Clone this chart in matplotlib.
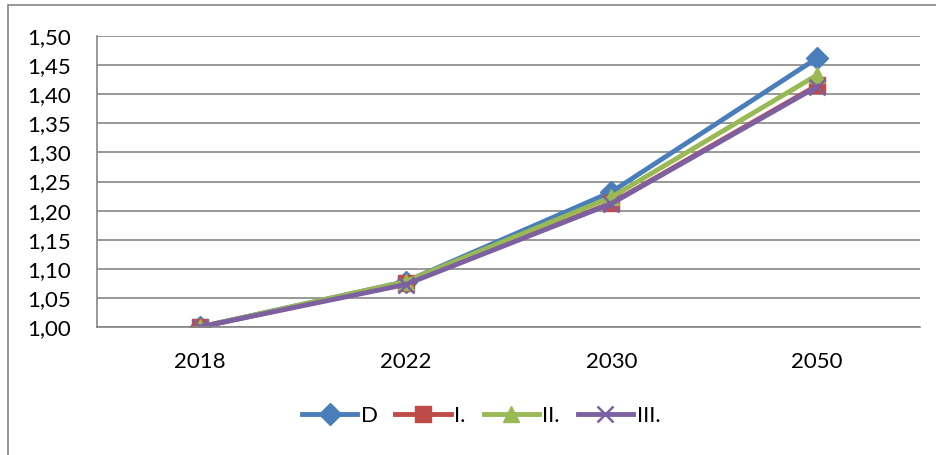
import matplotlib
matplotlib.use("Agg")
import matplotlib.pyplot as plt
from matplotlib.patches import Rectangle

years = ["2018", "2022", "2030", "2050"]
series_names = ["D", "I.", "II.", "III."]
D = [1.000, 1.078, 1.232, 1.462]
I = [1.000, 1.075, 1.213, 1.415]
II = [1.000, 1.078, 1.223, 1.433]
III = [1.000, 1.073, 1.212, 1.413]
yticks = [1.00, 1.05, 1.10, 1.15, 1.20, 1.25, 1.30, 1.35, 1.40, 1.45, 1.50]

plt.rcParams['font.family'] = ['Lato', 'DejaVu Sans']

fig = plt.figure(figsize=(9.37, 4.55), dpi=100)
W, H = 937, 455
ax = fig.add_axes([97 / W, 1 - 327 / H, (920 - 97) / W, (327 - 36) / H])

fig.patches.append(Rectangle((8 / W, -0.01), 0.995 - 8 / W + 0.02, 1 - 5 / H + 0.01,
                             transform=fig.transFigure, fill=False,
                             edgecolor='#868686', linewidth=1.2))

x = list(range(len(years)))
styles = [
    (D, '#4a7ebb', 'D', 11),
    (I, '#be4b48', 's', 11),
    (II, '#98b954', '^', 11),
    (III, '#7d60a0', 'x', 11),
]
for (vals, col, mk, ms), name in zip(styles, series_names):
    kw = dict(color=col, linewidth=3.5, marker=mk, markersize=ms, label=name)
    if mk == 'x':
        kw.update(markeredgewidth=1.8)
    else:
        kw.update(markeredgecolor=col)
    ax.plot(x, vals, **kw)

ax.set_xlim(-0.5, len(years) - 0.5)
ax.set_ylim(1.0, 1.5)
ax.set_yticks(yticks)
ax.set_yticklabels([f"{v:.2f}".replace('.', ',') for v in yticks])
ax.set_xticks(x)
ax.set_xticklabels(years)
ax.tick_params(axis='both', labelsize=16, length=0)
ax.tick_params(axis='x', pad=18)
ax.tick_params(axis='y', pad=19)
ax.grid(axis='y', color='#868686', linewidth=1.2)
for s in ['top', 'right']:
    ax.spines[s].set_visible(False)
for s in ['left', 'bottom']:
    ax.spines[s].set_color('#868686')
    ax.spines[s].set_linewidth(1.2)
ax.set_axisbelow(True)

leg = fig.legend(loc='center', bbox_to_anchor=(481 / W, 1 - 416 / H), ncol=4,
                 frameon=False, fontsize=16, handlelength=2.5, columnspacing=0.8,
                 handletextpad=0.15)

fig.savefig("out.png", dpi=100)
